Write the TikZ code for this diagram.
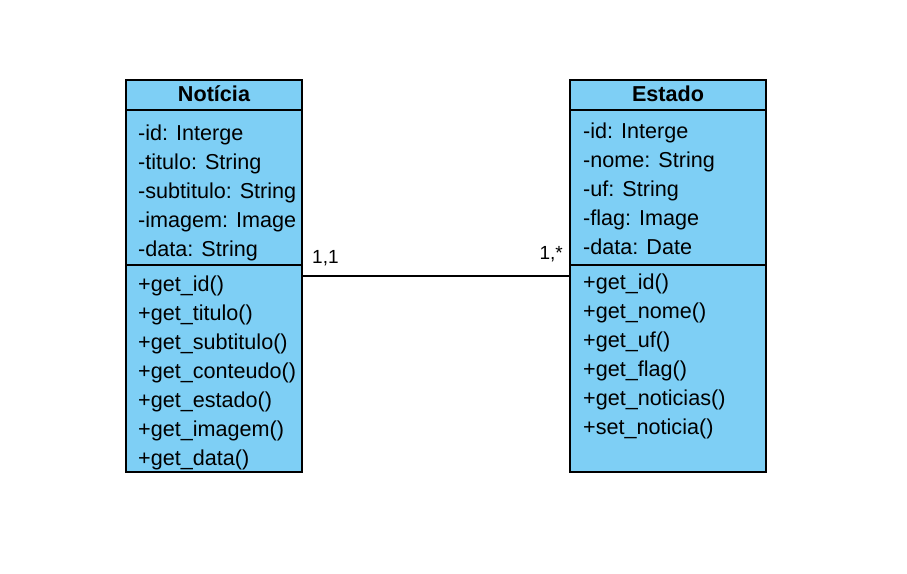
\documentclass[tikz,border=0pt]{standalone}
\usepackage{fontspec}
\setmainfont{Liberation Sans}
\definecolor{clsblue}{RGB}{126,207,245}
\begin{document}
\begin{tikzpicture}[x=1pt,y=-1pt,
  part/.style={draw=black,line width=1.6pt,fill=clsblue,inner sep=0pt,outer sep=0pt},
  txt/.style={anchor=base west,inner sep=0pt,font=\fontsize{21.6}{26}\selectfont},
  head/.style={anchor=base,inner sep=0pt,font=\fontsize{21.6}{26}\selectfont\bfseries},
  conn/.style={draw=black,line width=1.6pt}]
\useasboundingbox (0,0) rectangle (907,573);
% left class
\node[part,minimum width=176pt,minimum height=30pt] (nh) at (214,95) {};
\node[part,minimum width=176pt,minimum height=155pt] (na) at (214,187.5) {};
\node[part,minimum width=176pt,minimum height=207pt] (nm) at (214,368.5) {};
% right class
\node[part,minimum width=196pt,minimum height=30pt] (eh) at (668,95) {};
\node[part,minimum width=196pt,minimum height=155pt] (ea) at (668,187.5) {};
\node[part,minimum width=196pt,minimum height=207pt] (em) at (668,368.5) {};
% headers
\node[head] (nht) at (214,101) {Notícia};
\node[head] (eht) at (668,101) {Estado};
% attributes / methods
\foreach \t [count=\i from 0] in {-id: Interge,-titulo: String,-subtitulo: String,-imagem: Image,-data: String}
  \node[txt] (na\i) at (138,140+29*\i) {\t};
\foreach \t [count=\i from 0] in {+get\_id(),+get\_titulo(),+get\_subtitulo(),+get\_conteudo(),+get\_estado(),+get\_imagem(),+get\_data()}
  \node[txt] (nm\i) at (138,291+29*\i) {\t};
\foreach \t [count=\i from 0] in {-id: Interge,-nome: String,-uf: String,-flag: Image,-data: Date}
  \node[txt] (ea\i) at (583,138.5+29*\i) {\t};
\foreach \t [count=\i from 0] in {+get\_id(),+get\_nome(),+get\_uf(),+get\_flag(),+get\_noticias(),+set\_noticia()}
  \node[txt] (em\i) at (583,289.5+29*\i) {\t};
% connector
\draw[conn] ([yshift=-11pt]nm.north east) -- ([yshift=-11pt]em.north west);
\node[txt,font=\fontsize{19}{23}\selectfont] (m1) at (312,263) {1,1};
\node[txt,anchor=base east,font=\fontsize{19}{23}\selectfont] (m2) at (563,259) {1,*};
\end{tikzpicture}
\end{document}
